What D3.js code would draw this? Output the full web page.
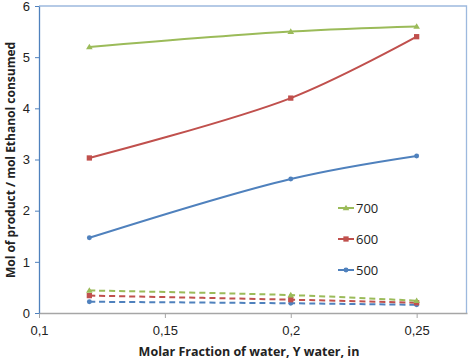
<!DOCTYPE html>
<html><head><meta charset="utf-8">
<script src="https://cdn.jsdelivr.net/npm/d3@7"></script>
<style>body{margin:0;background:#fff}svg{display:block;font-family:"Open Sans","Noto Sans",sans-serif}</style>
</head><body><svg id="c" width="469" height="362"></svg>
<script>
const xValues = [0.12, 0.2, 0.25];
const seriesNames = ["700", "600", "500"];
const solid700 = [5.2, 5.5, 5.6];
const solid600 = [3.03, 4.2, 5.4];
const solid500 = [1.47, 2.62, 3.07];
const dashed700 = [0.44, 0.35, 0.24];
const dashed600 = [0.34, 0.26, 0.2];
const dashed500 = [0.22, 0.19, 0.16];
const xTicks = [0.1, 0.15, 0.2, 0.25];
const xTickLabels = ["0,1", "0,15", "0,2", "0,25"];
const yTicks = [0, 1, 2, 3, 4, 5, 6];
const colors = {"700": "#9BBB59", "600": "#C0504D", "500": "#4F81BD"};
const markers = {"700": "triangle", "600": "square", "500": "circle"};

const svg = d3.select("#c");
const L = 39, R = 467, T = 6, B = 313;
const x = d3.scaleLinear().domain([0.1, 0.27]).range([L, R]);
const y = d3.scaleLinear().domain([0, 6]).range([B, T]);

svg.append("path").attr("d", `M${L},${T}H${R - 0.5}V${B}`).attr("fill", "none").attr("stroke", "#9DB9DE").attr("stroke-width", 1.3);

const xa = svg.append("g").attr("transform", `translate(0,${B})`)
  .call(d3.axisBottom(x).tickValues(xTicks).tickFormat((d, i) => xTickLabels[i]).tickSize(5).tickSizeOuter(0));
xa.select(".domain").attr("stroke", "#A6A6A6").attr("stroke-width", 1.3);
xa.selectAll(".tick line").attr("stroke", "#A6A6A6");
xa.selectAll("text").attr("font-size", 13).attr("fill", "#222").attr("dy", "1.05em");

const ya = svg.append("g").attr("transform", `translate(${L},0)`)
  .call(d3.axisLeft(y).tickValues(yTicks).tickFormat(d3.format("d")).tickSize(4).tickSizeOuter(0));
ya.select(".domain").attr("stroke", "#4F81BD").attr("stroke-width", 1.3);
ya.selectAll(".tick line").attr("stroke", "#4F81BD");
ya.selectAll("text").attr("font-size", 13).attr("fill", "#222").attr("x", -9);

svg.append("text").attr("x", (L + R) / 2 - 4).attr("y", 356).attr("text-anchor", "middle")
  .attr("font-size", 12.5).attr("font-weight", "bold").attr("fill", "#222")
  .text("Molar Fraction of water, Y water, in");
svg.append("text").attr("transform", "translate(15,160) rotate(-90)").attr("text-anchor", "middle")
  .attr("font-size", 12).attr("font-weight", "bold").attr("fill", "#222")
  .text("Mol of product  / mol Ethanol consumed");

const line = d3.line().x(d => x(d[0])).y(d => y(d[1])).curve(d3.curveCatmullRom.alpha(0.5));

function marker(g, type, cx, cy, col, s) {
  if (type === "triangle") {
    g.append("path").attr("d", `M${cx},${cy - s}L${cx + s},${cy + s * 0.7}L${cx - s},${cy + s * 0.7}Z`).attr("fill", col);
  } else if (type === "square") {
    g.append("rect").attr("x", cx - s * 0.8).attr("y", cy - s * 0.8).attr("width", s * 1.6).attr("height", s * 1.6).attr("fill", col);
  } else {
    g.append("circle").attr("cx", cx).attr("cy", cy).attr("r", s * 0.75).attr("fill", col);
  }
}

function drawSeries(vals, name, dashed) {
  const pts = xValues.map((xv, i) => [xv, vals[i]]);
  const g = svg.append("g");
  g.append("path").attr("d", line(pts)).attr("fill", "none").attr("stroke", colors[name])
    .attr("stroke-width", 2).attr("stroke-dasharray", dashed ? "6,4" : null);
  pts.forEach(p => marker(g, markers[name], x(p[0]), y(p[1]), colors[name], 3.3));
}

[[dashed500, "500"], [dashed600, "600"], [dashed700, "700"]].forEach(d => drawSeries(d[0], d[1], true));
[[solid500, "500"], [solid600, "600"], [solid700, "700"]].forEach(d => drawSeries(d[0], d[1], false));

const legY = [208, 239, 270];
seriesNames.forEach((n, i) => {
  const g = svg.append("g");
  g.append("line").attr("x1", 338).attr("x2", 354).attr("y1", legY[i]).attr("y2", legY[i])
    .attr("stroke", colors[n]).attr("stroke-width", 2);
  marker(g, markers[n], 346, legY[i], colors[n], 3.3);
  g.append("text").attr("x", 356).attr("y", legY[i]).attr("dy", "0.35em")
    .attr("font-size", 13).attr("fill", "#222").text(n);
});
</script></body></html>
